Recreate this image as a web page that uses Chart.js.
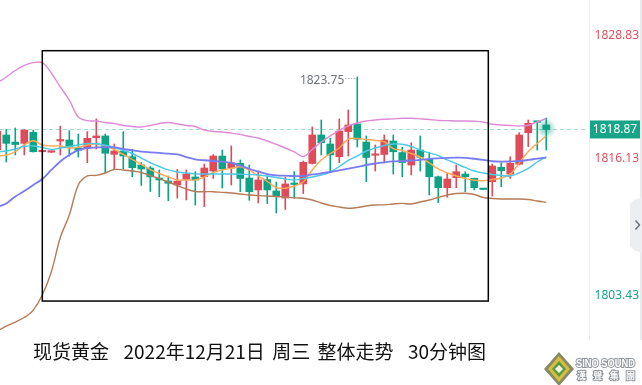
<!DOCTYPE html>
<html>
<head>
<meta charset="utf-8">
<script src="https://cdn.jsdelivr.net/npm/chart.js@4.4.0/dist/chart.umd.min.js"></script>
<style>
  html, body { margin: 0; padding: 0; background: #fff; }
  #wrap { position: relative; width: 642px; height: 385px; overflow: hidden; }
  #chart { position: absolute; left: 0; top: 0; }
  #title { position: absolute; left: 33px; top: 337px; font: 19px 'Noto Sans CJK SC', sans-serif; color: #111; white-space: pre; line-height: 28px; word-spacing: 3px; }
  #logo { position: absolute; left: 540px; top: 347px; }
</style>
</head>
<body>
<div id="wrap">
  <canvas id="chart" width="642" height="385"></canvas>
  <div id="title">现货黄金  2022年12月21日 周三 整体走势  30分钟图</div>
  <svg id="logo" width="102" height="38" viewBox="0 0 102 38">
    <polygon points="19,5 34,22 19,39 4,22" fill="#8a8a62"/>
    <polygon points="19,9 30,22 19,35 8,22" fill="#d3bd45"/>
    <polygon points="19,14 26,22 19,30 12,22" fill="#5f9a3c"/>
    <polygon points="19,18 23,22 19,26 15,22" fill="#f4f4e8"/>
    <text x="36" y="20" font-family="Liberation Sans, Arial" font-weight="bold" font-size="10" textLength="59" lengthAdjust="spacingAndGlyphs" fill="#fff" stroke="#8f959c" stroke-width="2" paint-order="stroke">SINO SOUND</text>
    <text x="37" y="32" font-family="Noto Sans CJK TC" font-weight="bold" font-size="9" textLength="58" fill="#fff" stroke="#8f959c" stroke-width="2" paint-order="stroke">漢聲集團</text>
  </svg>
</div>
<script>
// 30-minute candles, spot gold
const opens = [1816.96,1818.36,1817.70,1817.58,1818.61,1816.80,1816.76,1817.80,1817.89,1817.18,
  1817.12,1818.10,1818.27,1816.56,1816.87,1816.34,1815.57,1815.29,1814.36,1814.08,
  1813.71,1814.24,1814.46,1814.48,1815.01,1816.40,1815.29,1815.73,1814.36,1813.25,
  1814.22,1813.16,1812.50,1813.90,1813.81,1815.71,1818.36,1817.52,1816.34,1818.67,
  1819.38,1817.70,1816.47,1816.55,1817.80,1816.73,1815.57,1816.96,1816.10,1814.48,
  1813.46,1814.39,1814.73,1814.33,1813.34,1814.02,1815.36,1814.73,1815.64,1818.57,
  1819.59,1819.29]
const closes = [1818.73,1817.58,1817.47,1818.82,1816.80,1816.84,1816.80,1817.89,1817.24,1816.94,
  1818.05,1818.27,1816.66,1816.87,1816.40,1815.32,1815.20,1814.46,1814.18,1813.87,
  1814.08,1814.73,1814.18,1815.29,1816.40,1815.20,1815.78,1814.32,1813.09,1814.18,
  1813.25,1812.63,1813.81,1813.76,1815.82,1818.36,1817.64,1816.50,1818.73,1819.29,
  1817.96,1816.27,1816.50,1817.89,1816.80,1815.80,1816.96,1816.29,1814.48,1813.46,
  1814.27,1814.95,1814.48,1813.46,1813.29,1815.48,1815.04,1815.73,1818.36,1819.45,
  1819.54,1818.87]
const highs = [1819.01,1818.87,1819.01,1818.85,1818.82,1816.91,1816.85,1819.19,1818.76,1818.45,
  1818.67,1819.85,1818.45,1817.52,1818.67,1817.03,1815.80,1815.43,1815.11,1814.55,
  1815.17,1815.11,1814.95,1815.66,1816.54,1816.96,1817.34,1816.04,1815.57,1815.01,
  1814.55,1813.99,1814.46,1814.95,1815.94,1819.10,1819.75,1818.05,1819.85,1820.68,
  1823.75,1818.27,1817.43,1818.36,1818.36,1817.21,1817.64,1818.27,1816.71,1814.55,
  1814.80,1815.57,1814.95,1814.36,1813.36,1815.66,1815.78,1816.34,1818.57,1819.75,
  1819.60,1819.94]
const lows = [1816.50,1815.85,1816.50,1816.50,1816.77,1816.77,1816.72,1816.50,1816.40,1816.31,
  1815.79,1817.06,1814.83,1815.20,1815.20,1814.48,1813.67,1813.11,1812.63,1812.25,
  1812.50,1812.32,1811.85,1811.70,1814.32,1813.43,1813.71,1813.09,1812.29,1812.04,
  1811.99,1811.11,1811.44,1812.48,1812.92,1815.66,1816.50,1814.95,1815.79,1816.40,
  1817.24,1814.02,1815.01,1815.76,1814.73,1814.48,1814.64,1815.01,1812.78,1812.07,
  1812.57,1813.46,1813.09,1813.25,1813.27,1812.69,1813.55,1814.33,1815.57,1817.27,
  1816.96,1816.96]

// BOLL bands and moving averages
const bollUpper = [1823.19,1823.75,1824.35,1824.82,1825.08,1825.08,1824.12,1822.82,1821.61,1820.03,
  1819.69,1819.66,1819.52,1819.41,1819.24,1819.15,1819.10,1819.24,1819.43,1819.52,
  1819.38,1819.24,1819.15,1818.82,1818.68,1818.64,1818.54,1818.41,1818.22,1818.08,
  1817.80,1817.48,1817.15,1816.78,1816.36,1817.01,1817.71,1818.27,1818.78,1819.20,
  1819.47,1819.66,1819.75,1819.82,1819.86,1819.91,1819.91,1819.86,1819.80,1819.71,
  1819.69,1819.66,1819.66,1819.63,1819.57,1819.35,1819.29,1819.24,1819.20,1819.26,
  1819.57,1819.89]
const bollMid = [1811.67,1812.00,1812.64,1813.16,1813.71,1814.27,1815.11,1815.90,1816.50,1816.96,
  1817.15,1817.20,1817.22,1817.20,1817.06,1816.92,1816.82,1816.75,1816.69,1816.62,
  1816.55,1816.31,1816.10,1816.01,1815.94,1815.88,1815.76,1815.52,1815.22,1814.97,
  1814.73,1814.61,1814.58,1814.55,1814.55,1814.69,1814.80,1814.92,1815.06,1815.23,
  1815.39,1815.57,1815.71,1815.82,1815.90,1815.94,1815.99,1816.04,1816.13,1816.19,
  1816.24,1816.25,1816.24,1816.15,1816.04,1815.92,1815.88,1815.90,1815.94,1816.04,
  1816.17,1816.27]
const bollLower = [1800.14,1800.61,1800.98,1801.40,1802.09,1803.49,1805.63,1808.83,1810.92,1813.71,
  1814.55,1814.61,1814.83,1815.15,1815.11,1815.01,1814.87,1814.59,1814.32,1813.99,
  1813.67,1813.34,1813.11,1813.09,1813.09,1813.03,1812.97,1812.88,1812.78,1812.72,
  1812.69,1812.64,1812.60,1812.52,1812.48,1812.32,1812.04,1811.81,1811.67,1811.55,
  1811.62,1811.76,1811.85,1811.87,1811.95,1812.00,1811.95,1812.13,1812.32,1812.55,
  1812.78,1812.92,1812.94,1812.83,1812.55,1812.46,1812.41,1812.41,1812.41,1812.36,
  1812.22,1812.10]
const ma5 = [1816.40,1816.50,1816.82,1817.43,1817.83,1817.43,1817.34,1817.34,1817.15,1817.22,
  1817.43,1817.52,1817.34,1817.01,1816.55,1816.08,1815.62,1815.15,1814.78,1814.46,
  1814.18,1814.18,1814.18,1814.46,1814.87,1815.11,1815.27,1815.41,1815.11,1814.55,
  1814.04,1813.48,1813.41,1813.62,1813.99,1815.11,1816.04,1816.64,1817.15,1817.98,
  1818.03,1817.94,1817.85,1817.73,1817.10,1816.92,1816.64,1816.31,1815.76,1815.20,
  1814.83,1814.55,1814.32,1814.15,1814.11,1814.22,1814.36,1814.73,1815.76,1816.82,
  1817.57,1818.27]
const ma10 = [1816.78,1816.87,1817.06,1817.31,1817.34,1817.20,1817.01,1817.15,1817.29,1817.43,
  1817.57,1817.55,1817.40,1817.20,1816.92,1816.64,1816.22,1815.80,1815.43,1815.11,
  1814.92,1814.83,1814.75,1814.73,1814.73,1814.73,1814.73,1814.71,1814.68,1814.64,
  1814.55,1814.41,1814.27,1814.18,1814.32,1814.46,1814.64,1814.92,1815.43,1815.99,
  1816.40,1816.87,1817.15,1817.38,1817.52,1817.50,1817.29,1816.96,1816.69,1816.45,
  1816.04,1815.69,1815.34,1815.01,1814.83,1814.69,1814.60,1814.55,1814.83,1815.25,
  1815.85,1816.31]

// right-hand price labels
const priceTicks = [1828.83, 1816.13, 1803.43]
const priceTickColors = ['#e0505e', '#e0505e', '#17a589']
const lastPrice = 1818.87
const highIndex = 40

// annotation box (data coords)
const box = { x0: 5, x1: 54.56, yTop: 1826.19, yBottom: 1802.93 }

const UP = '#df4b59'
const DOWN = '#0fa386'
const candleColors = closes.map((c, i) => c >= opens[i] ? UP : DOWN)

const pts = arr => arr.map((v, i) => ({ x: i, y: v }))

const lineDs = (data, color, w) => ({
  type: 'line',
  data: pts(data),
  borderColor: color,
  borderWidth: w,
  pointRadius: 0,
  tension: 0.35,
  fill: false,
  order: 0,
})

const overlay = {
  id: 'overlay',
  beforeDatasetsDraw(chart) {
    const { ctx, scales: { x, y } } = chart
    const py = Math.round(y.getPixelForValue(lastPrice)) + 0.5
    ctx.save()
    ctx.strokeStyle = '#a6dccd'
    ctx.lineWidth = 1.2
    ctx.setLineDash([4, 3])
    ctx.beginPath()
    ctx.moveTo(0, py)
    ctx.lineTo(588, py)
    ctx.stroke()
    ctx.restore()
  },
  afterDatasetsDraw(chart) {
    const { ctx, scales: { x, y } } = chart
    ctx.save()
    // glow on the latest candle
    const gx = x.getPixelForValue(closes.length - 1)
    const gy = y.getPixelForValue(lastPrice) - 1
    const g = ctx.createRadialGradient(gx, gy, 1, gx, gy, 10)
    g.addColorStop(0, 'rgba(15,163,134,0.55)')
    g.addColorStop(1, 'rgba(15,163,134,0)')
    ctx.fillStyle = g
    ctx.beginPath()
    ctx.arc(gx, gy, 10, 0, Math.PI * 2)
    ctx.fill()

    // high marker
    const hx = x.getPixelForValue(highIndex)
    const hy = y.getPixelForValue(highs[highIndex])
    ctx.strokeStyle = '#8a8f98'
    ctx.lineWidth = 1
    ctx.setLineDash([1, 2])
    ctx.beginPath()
    ctx.moveTo(hx - 12, hy + 1.5)
    ctx.lineTo(hx - 1, hy + 1.5)
    ctx.stroke()
    ctx.setLineDash([])
    ctx.fillStyle = '#6f737c'
    ctx.font = '12px "Noto Sans", sans-serif'
    ctx.textAlign = 'right'
    ctx.textBaseline = 'middle'
    ctx.fillText(highs[highIndex].toFixed(2), hx - 13, hy + 4)

    // annotation box
    const bx0 = x.getPixelForValue(box.x0), bx1 = x.getPixelForValue(box.x1)
    const by0 = y.getPixelForValue(box.yTop), by1 = y.getPixelForValue(box.yBottom)
    ctx.strokeStyle = '#000'
    ctx.lineWidth = 1.5
    ctx.strokeRect(bx0, by0, bx1 - bx0, by1 - by0)
    ctx.restore()
  },
  afterDraw(chart) {
    const { ctx, scales: { y } } = chart
    ctx.save()
    // side panel
    ctx.strokeStyle = '#ececec'
    ctx.lineWidth = 1
    ctx.beginPath()
    ctx.moveTo(589.5, 0)
    ctx.lineTo(589.5, 340)
    ctx.stroke()
    ctx.fillStyle = '#e9eaec'
    ctx.fillRect(640, 0, 2, 340)
    ctx.fillStyle = '#eceef1'
    ctx.beginPath()
    ctx.moveTo(642, 197)
    ctx.lineTo(634, 200)
    ctx.lineTo(630, 204)
    ctx.lineTo(630, 246)
    ctx.lineTo(634, 250)
    ctx.lineTo(642, 253)
    ctx.closePath()
    ctx.fill()
    ctx.strokeStyle = '#6c7280'
    ctx.lineWidth = 1.5
    ctx.beginPath()
    ctx.moveTo(635.5, 220.5)
    ctx.lineTo(639.5, 225)
    ctx.lineTo(635.5, 229.5)
    ctx.stroke()

    // price labels
    ctx.font = '12px "Noto Sans", sans-serif'
    ctx.textAlign = 'right'
    ctx.textBaseline = 'middle'
    priceTicks.forEach((v, i) => {
      const py = Math.max(y.getPixelForValue(v), 36)
      ctx.fillStyle = priceTickColors[i]
      ctx.fillText(v.toFixed(2), 639, py)
    })
    const ly = y.getPixelForValue(lastPrice)
    ctx.fillStyle = '#17a589'
    ctx.fillRect(590, ly - 9, 50, 18)
    ctx.fillStyle = '#fff'
    ctx.textAlign = 'center'
    ctx.fillText(lastPrice.toFixed(2), 615, ly + 0.5)
    ctx.restore()
  }
}

new Chart(document.getElementById('chart'), {
  type: 'bar',
  data: {
    datasets: [
      lineDs(bollUpper, '#de8bd6', 1.4),
      lineDs(bollLower, '#b67b57', 1.4),
      lineDs(bollMid, '#797cf0', 1.8),
      lineDs(ma10, '#48c9e6', 1.4),
      lineDs(ma5, '#ffa858', 1.4),
      {
        label: 'wick',
        data: highs.map((h, i) => ({ x: i, y: [lows[i], h] })),
        backgroundColor: candleColors,
        barThickness: 1,
        grouped: false,
        order: 2,
      },
      {
        label: 'body',
        data: closes.map((c, i) => ({ x: i, y: [opens[i], c] })),
        backgroundColor: candleColors,
        barThickness: 7,
        minBarLength: 1.5,
        grouped: false,
        order: 1,
      },
    ]
  },
  options: {
    responsive: false,
    animation: false,
    events: [],
    layout: { padding: { left: 0, right: 52, top: 0, bottom: 55 } },
    scales: {
      x: { type: 'linear', min: 0.3, max: 65.86, offset: false, display: false },
      y: { min: 1800.24, max: 1830.9, display: false },
    },
    plugins: {
      legend: { display: false },
      tooltip: { enabled: false },
    }
  },
  plugins: [overlay]
})
</script>
</body>
</html>
